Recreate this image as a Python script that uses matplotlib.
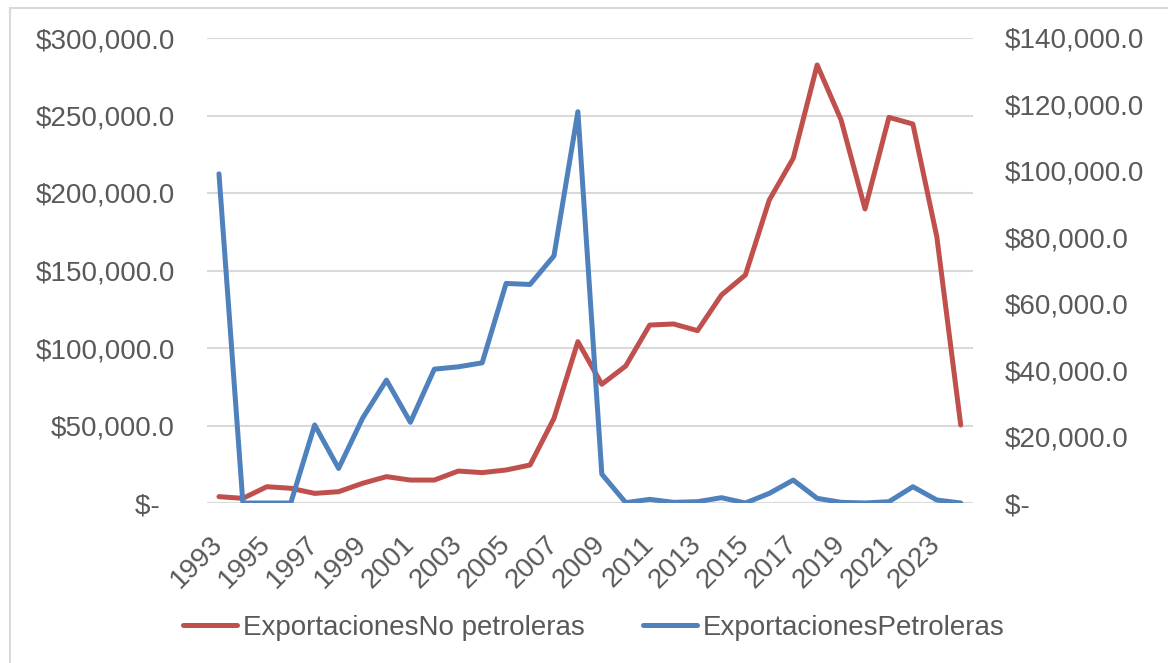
import matplotlib.pyplot as plt
from matplotlib.patches import Rectangle
from matplotlib.ticker import FuncFormatter, MultipleLocator

plt.rcParams['font.family'] = ['Liberation Sans', 'DejaVu Sans']

# datos (millones de dolares)
anios = list(range(1993, 2025))
no_petroleras = [4100, 3000, 10500, 9500, 6200, 7300, 12700, 17000, 14800, 14800,
                 20600, 19600, 21300, 24500, 54600, 104100, 76600, 88400, 114800, 115500,
                 111200, 134200, 147100, 195500, 222400, 282600, 247100, 189700, 248800, 244500,
                 171800, 50300]
petroleras = [99100, 0, 0, 0, 23500, 10400, 25500, 37000, 24300, 40300,
              41000, 42200, 66100, 65800, 74400, 117800, 8700, 100, 1100, 200,
              400, 1600, 0, 2900, 6900, 1400, 200, 0, 400, 4900,
              900, 0]
etiquetas_anio = [str(a) for a in anios[::2]]

rojo = '#C0504D'
azul = '#4F81BD'
gris_texto = '#595959'
gris_linea = '#D9D9D9'
tam = 20


def formato_pesos(v, pos):
    if abs(v) < 1e-6:
        return '$-  '
    return '${:,.1f}'.format(v)


fig = plt.figure(figsize=(11.68, 6.63), dpi=100)
ax = fig.add_axes([207 / 1168, 1 - 503 / 663, (972.7 - 207) / 1168, (503 - 38) / 663])
ax2 = ax.twinx()

# borde del area del grafico
fig.patches.append(Rectangle((10 / 1168, -0.01), 1.0, 1 - 8 / 663 + 0.01,
                             transform=fig.transFigure, fill=False,
                             edgecolor=gris_linea, linewidth=1.5))

l1, = ax.plot(anios, no_petroleras, color=rojo, linewidth=3.6,
              solid_capstyle='round', solid_joinstyle='round',
              label='ExportacionesNo petroleras')
l2, = ax2.plot(anios, petroleras, color=azul, linewidth=3.6,
               solid_capstyle='round', solid_joinstyle='round',
               label='ExportacionesPetroleras')

ax.set_xlim(1992.5, 2024.5)
ax.set_ylim(0, 300000)
ax2.set_ylim(0, 140000)
ax.yaxis.set_major_locator(MultipleLocator(50000))
ax2.yaxis.set_major_locator(MultipleLocator(20000))
ax.yaxis.set_major_formatter(FuncFormatter(formato_pesos))
ax2.yaxis.set_major_formatter(FuncFormatter(formato_pesos))

ax.grid(axis='y', color=gris_linea, linewidth=1.5)
ax.set_axisbelow(True)
for a in (ax, ax2):
    for lado in ('top', 'left', 'right', 'bottom'):
        a.spines[lado].set_visible(False)
ax.axhline(0, color=gris_linea, linewidth=1.5, zorder=1)

ax.set_xticks(anios[::2])
ax.set_xticklabels(etiquetas_anio, rotation=45, ha='right', va='center',
                   rotation_mode='anchor')
ax.tick_params(axis='x', length=0, pad=27, labelsize=tam, labelcolor=gris_texto)
ax.tick_params(axis='y', length=0, pad=23, labelsize=tam, labelcolor=gris_texto)
ax2.tick_params(axis='y', length=0, pad=23, labelsize=tam, labelcolor=gris_texto)

fig.legend(handles=[l1, l2], loc='center', bbox_to_anchor=(593.5 / 1168, 1 - 627.7 / 663),
           ncol=2, frameon=False, fontsize=tam, labelcolor=gris_texto,
           handlelength=1.95, handletextpad=0.2, columnspacing=2.1)

fig.savefig('out.png', dpi=100)
